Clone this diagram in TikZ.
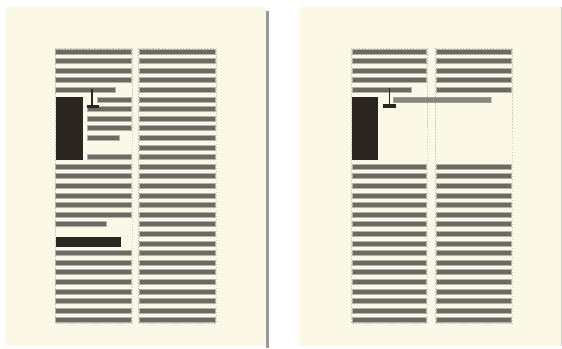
\documentclass[tikz,border=0pt]{standalone}
\usepackage{tikz}
\definecolor{paper}{HTML}{FBF8E7}
\definecolor{txtline}{HTML}{6A6962}
\definecolor{txtedge}{HTML}{B4B2A6}
\definecolor{darkbox}{HTML}{2A2520}
\definecolor{framegray}{HTML}{CFCDC3}
\definecolor{sepgray}{HTML}{9A9A9A}
\tikzset{
  textline/.style={fill=txtline, draw=txtedge, line width=0.7pt},
  darkshape/.style={fill=darkbox, draw=none},
  framebox/.style={draw=framegray, line width=0.7pt, dash pattern=on 1.5pt off 1.5pt},
  spanline/.style={fill=txtline, fill opacity=0.8, draw=txtedge, draw opacity=0.6, line width=0.7pt},
  cursorline/.style={draw=darkbox, line width=1.6pt},
}
\newcommand{\tl}[3]{\path[textline] (#1,{49+9.6*#3}) rectangle (#2,{49+9.6*#3+5});}
\begin{document}
\begin{tikzpicture}[x=1pt,y=-1pt]
\useasboundingbox (0,0) rectangle (562,348);
\fill[white] (0,0) rectangle (562,348);
% panels
\fill[paper] (5,7) rectangle (266,346);
\fill[paper] (300,7) rectangle (561,346);
\fill[sepgray] (266,11) rectangle (269,348);
\draw[framegray, line width=0.8pt] (561.5,7) -- (561.5,346);
% ---------- left panel ----------
\draw[framebox] (55,48) rectangle (132,323);
\draw[framebox] (138,48) rectangle (216,323);
\foreach \i in {0,1,2,3,12,13,14,15,16,17,21,22,23,24,25,26,27,28} {\tl{55.5}{131}{\i}}
\tl{55.5}{115}{4}
\tl{97}{131}{5}
\foreach \i in {6,7,8,11} {\tl{87}{131}{\i}}
\tl{87}{119}{9}
\tl{55.5}{106}{18}
\foreach \i in {0,...,28} {\tl{139}{215}{\i}}
\fill[darkbox] (56,97) rectangle (83,159.5);
\fill[darkbox] (56,237) rectangle (121,247);
\draw[cursorline] (92,89) -- (92,105);
\fill[darkbox] (87,104.5) rectangle (99,108);
% ---------- right panel ----------
\draw[framebox] (351,48) rectangle (427,323);
\draw[framebox] (435,48) rectangle (512,323);
\foreach \i in {0,1,2,3,12,13,14,15,16,17,18,19,20,21,22,23,24,25,26,27,28} {\tl{352}{426}{\i}}
\tl{352}{411}{4}
\foreach \i in {0,1,2,3,4,12,13,14,15,16,17,18,19,20,21,22,23,24,25,26,27,28} {\tl{436}{511}{\i}}
\fill[darkbox] (352,97.3) rectangle (378,160);
\path[spanline] (393,97.3) rectangle (491,102.7);
\draw[cursorline] (389.5,88) -- (389.5,105);
\fill[darkbox] (383,104.3) rectangle (396,108.3);
\end{tikzpicture}
\end{document}
